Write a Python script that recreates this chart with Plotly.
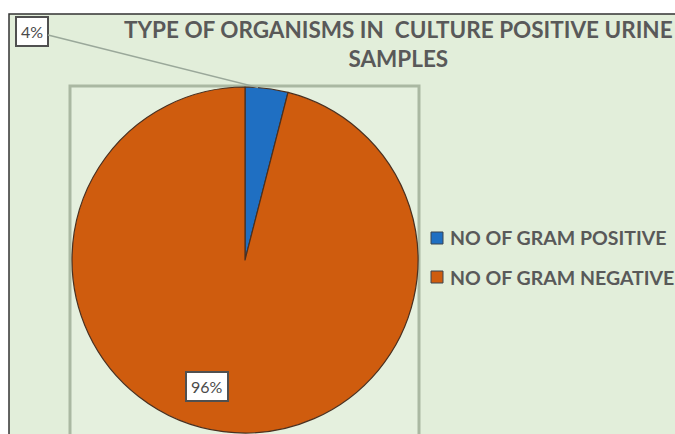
import math
import plotly.graph_objects as go

# Figure size in pixels
W, H = 675, 434

# ---- data ----
categories = ["NO OF GRAM POSITIVE", "NO OF GRAM NEGATIVE"]
organism_share = [4, 96]
slice_colors = ["#1f6fc2", "#cf5c0e"]
chart_title = "TYPE OF ORGANISMS IN&nbsp; CULTURE POSITIVE URINE<br>SAMPLES"

TEXT_GRAY = "#595959"
LABEL_GRAY = "#4a4a4a"
BG_GREEN = "#e2eeda"
FONT = "Lato"


def fx(x):
    """pixel x -> paper x"""
    return x / W


def fy(y):
    """pixel y (from top) -> paper y"""
    return 1 - y / H


# pie placement (pixels)
pie_left, pie_right = 72, 418
pie_top, pie_bottom = 87, 433
cx = (pie_left + pie_right) / 2
cy = (pie_top + pie_bottom) / 2
radius = (pie_right - pie_left) / 2

fig = go.Figure()
fig.add_trace(go.Pie(
    labels=categories,
    values=organism_share,
    sort=False,
    direction="clockwise",
    rotation=0,
    textinfo="none",
    hoverinfo="label+percent",
    marker=dict(colors=slice_colors, line=dict(color="#4a3020", width=1.2)),
    domain=dict(x=[fx(pie_left), fx(pie_right)], y=[fy(pie_bottom), fy(pie_top)]),
    showlegend=False,
))

total = sum(organism_share)
pcts = [round(100 * v / total) for v in organism_share]

label_font = dict(family=FONT, size=16, color=LABEL_GRAY)

# data labels
# small slice: boxed label up-left with a leader line to the slice edge
ang = math.radians(360 * organism_share[0] / total * 0.3)
tip_x = cx + radius * math.sin(ang)
tip_y = cy - radius * math.cos(ang)
box1 = (32, 31)
annotations = [
    dict(x=fx(tip_x), y=fy(tip_y), xref="paper", yref="paper",
         text=f"{pcts[0]}%", showarrow=True, arrowhead=0, arrowwidth=1.5,
         arrowcolor="#9aa89a", ax=box1[0] - tip_x, ay=box1[1] - tip_y,
         standoff=0, font=label_font,
         bgcolor="white", bordercolor="#505050", borderwidth=2, borderpad=4),
    dict(x=fx(207), y=fy(386), xref="paper", yref="paper",
         xanchor="center", yanchor="middle",
         text=f"{pcts[1]}%", showarrow=False, font=label_font,
         bgcolor="white", bordercolor="#505050", borderwidth=2, borderpad=4),
    # chart title
    dict(x=fx(398), y=fy(14), xref="paper", yref="paper", xanchor="center", yanchor="top",
         text=chart_title, showarrow=False,
         font=dict(family=FONT, size=22.5, color=TEXT_GRAY, weight="bold")),
]

# legend entries
legend_x = 431
legend_rows = [238, 277]
shapes = [
    # chart area background and border
    dict(type="rect", xref="paper", yref="paper", x0=fx(9), x1=1.02, y0=-0.02, y1=fy(14),
         fillcolor=BG_GREEN, line=dict(color="#333333", width=1.5), layer="below"),
    # plot area frame
    dict(type="rect", xref="paper", yref="paper", x0=fx(70), x1=fx(419), y0=-0.02, y1=fy(86),
         fillcolor="#e5f0de", line=dict(color="#aab8a2", width=3), layer="below"),
]
for name, color, yrow in zip(categories, slice_colors, legend_rows):
    shapes.append(dict(type="rect", xref="paper", yref="paper",
                       x0=fx(legend_x), x1=fx(legend_x + 12),
                       y0=fy(yrow + 6), y1=fy(yrow - 6),
                       fillcolor=color, line=dict(color="#3a4450", width=1)))
    annotations.append(dict(x=fx(legend_x + 17), y=fy(yrow), xref="paper", yref="paper",
                            text=name, showarrow=False, xanchor="left", yanchor="middle",
                            font=dict(family=FONT, size=19.5, color=TEXT_GRAY, weight="bold")))

fig.update_layout(
    width=W, height=H,
    margin=dict(l=0, r=0, t=0, b=0),
    paper_bgcolor="white",
    shapes=shapes,
    annotations=annotations,
)

fig.write_html("out.html")
